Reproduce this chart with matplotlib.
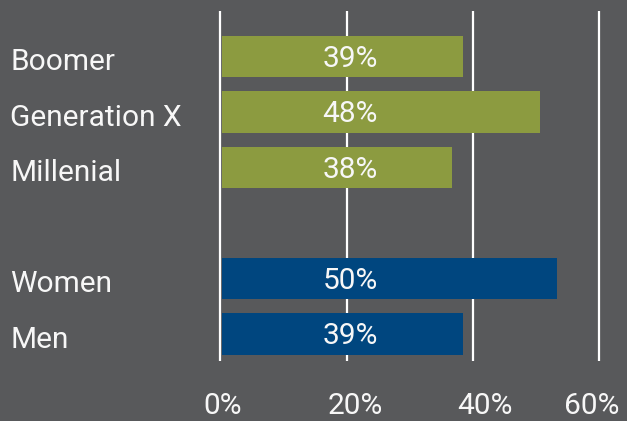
import matplotlib.pyplot as plt

plt.rcParams['font.family'] = ['Roboto', 'DejaVu Sans']

categories = ['Boomer', 'Generation X', 'Millenial', 'Women', 'Men']
positions = [0, 1, 2, 4, 5]
# where each bar ends in the picture (percent)
values = [38.4, 50.6, 36.7, 53.3, 38.4]
value_labels = ['39%', '48%', '38%', '50%', '39%']
groups = ['gen', 'gen', 'gen', 'sex', 'sex']
ticks = [0, 20, 40, 60]
tick_labels = ['0%', '20%', '40%', '60%']

bg = '#58595b'
colors = {'gen': '#8c9b40', 'sex': '#00467f'}
txt = '#f7f7f7'

fig = plt.figure(figsize=(6.27, 4.21), dpi=100, facecolor=bg)
ax = fig.add_axes([0, 0, 1, 1])
ax.set_facecolor(bg)
ax.set_xlim(-34.91, 64.36)
ax.set_ylim(6.568, -1.018)
ax.axis('off')

for t in ticks:
    ax.plot([t, t], [-0.82, 5.49], color='white', lw=1.6, zorder=1,
            solid_capstyle='butt')

start = 0.25
ax.barh(positions, [v - start for v in values], height=0.74, left=start,
        color=[colors[g] for g in groups], zorder=2)

for p, cat, lab in zip(positions, categories, value_labels):
    ax.text(-33.3, p + 0.1, cat, color=txt, fontsize=21.5,
            ha='left', va='center')
    ax.text(20.5, p + 0.04, lab, color=txt, fontsize=21.5,
            ha='center', va='center', zorder=3)

# tick labels sit a little off their gridlines in the original
label_shift = [0.3, 1.3, 1.9, -1.2]
for t, lab, s in zip(ticks, tick_labels, label_shift):
    ax.text(t + s, 6.3, lab, color=txt, fontsize=21.5,
            ha='center', va='center')

fig.savefig('out.png', dpi=100, facecolor=bg)
